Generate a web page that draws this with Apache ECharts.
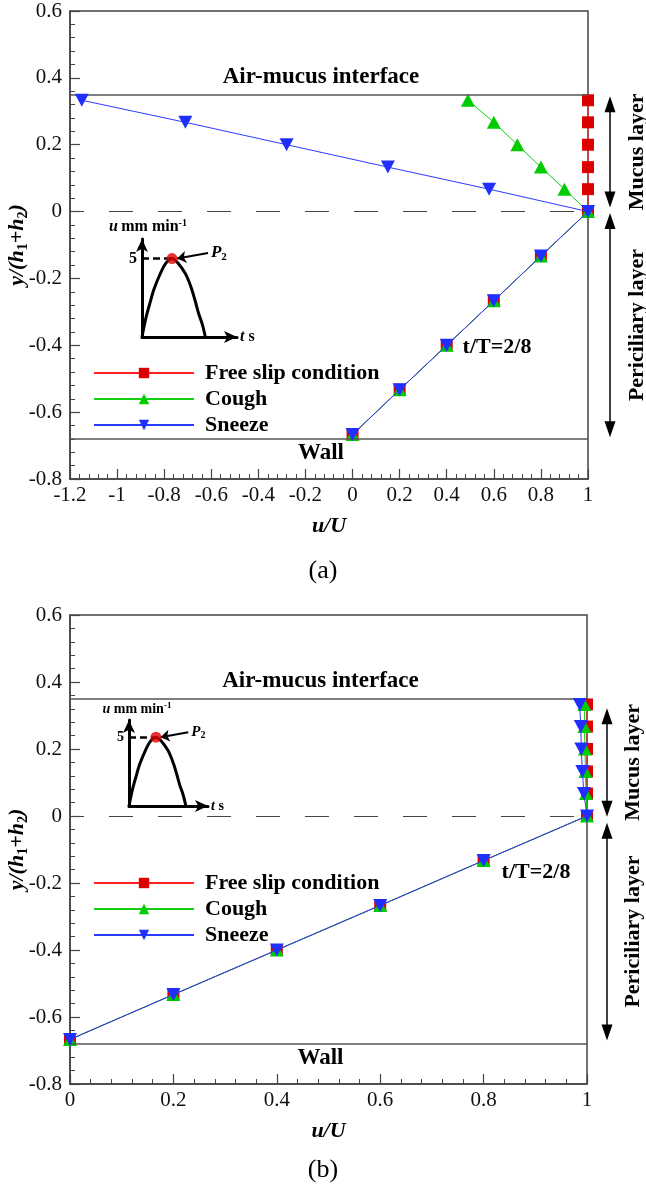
<!DOCTYPE html>
<html><head><meta charset="utf-8">
<script src="https://cdn.jsdelivr.net/npm/echarts@6/dist/echarts.min.js"></script>
<style>html,body{margin:0;padding:0;background:#fff}#c{width:646px;height:1191px}</style>
</head><body><div id="c"></div>
<script>
// ---------- data ----------
const yPos      = [0.333, 0.267, 0.2, 0.133, 0.067, 0, -0.133, -0.267, -0.4, -0.533, -0.667];
const freeSlipA = [1, 1, 1, 1, 1, 1, 0.8, 0.6, 0.4, 0.2, 0];
const coughA    = [0.49, 0.6, 0.7, 0.8, 0.9, 1, 0.8, 0.6, 0.4, 0.2, 0];
const sneezeA   = [-1.15, -0.71, -0.28, 0.15, 0.58, 1, 0.8, 0.6, 0.4, 0.2, 0];
const freeSlipB = [1, 1, 1, 1, 1, 1, 0.8, 0.6, 0.4, 0.2, 0];
const coughB    = [0.995, 0.995, 0.996, 0.997, 0.998, 1, 0.8, 0.6, 0.4, 0.2, 0];
const sneezeB   = [0.986, 0.988, 0.989, 0.991, 0.994, 1, 0.8, 0.6, 0.4, 0.2, 0];
const seriesNames = ['Free slip condition', 'Cough', 'Sneeze'];
const xRangeA = [-1.2, 1];
const xRangeB = [0, 1];
const yRange  = [-0.8, 0.6];
const tickStep = 0.2;
const interfaceY = 0.35;
const wallY = -0.68;
const mucusArrowA = [0.345, 0.012], periArrowA = [-0.004, -0.675];
const mucusArrowB = [0.322, -0.002], periArrowB = [-0.02, -0.67];
// inset: velocity pulse sketch
const pulseT = [0, 0.026, 0.053, 0.09, 0.123, 0.193, 0.25, 0.316, 0.38, 0.456, 0.49, 0.526, 0.56, 0.596, 0.635, 0.667];
const pulseU = [0, 0.8, 1.5, 2.3, 3.0, 4.05, 4.7, 5.0, 4.7, 4.05, 3.6, 3.0, 2.3, 1.5, 0.8, 0];
const peakP2 = [0.316, 5];
const p2ArrowFrom = [0.695, 5.36], p2ArrowTo = [0.37, 5.0];
const pulseLabel = 5;

// ---------- styles ----------
const FONT = "'Liberation Serif', 'Times New Roman', serif";
const AX = '#444';
const sym = {
  square: 'rect',
  up: 'path://M5,0 L10,9 L0,9 Z',
  down: 'path://M0,0 L10,0 L5,9 Z'
};
const styles = [
  {line: '#ff2020', mark: '#dd0000', symbol: sym.square, size: 12},
  {line: '#10d010', mark: '#00cc00', symbol: sym.up, size: [14, 13]},
  {line: '#2a3cff', mark: '#1f2fff', symbol: sym.down, size: [14, 13]}
];

const chart = echarts.init(document.getElementById('c'));

function mainX(gi, r) {
  return {
    gridIndex: gi, type: 'value', min: r[0], max: r[1], interval: tickStep,
    axisLine: {show: true, onZero: false, lineStyle: {color: AX, width: 1.5}},
    axisTick: {show: true, inside: true, length: 10, lineStyle: {color: AX, width: 1.2}},
    minorTick: {show: true, splitNumber: 5, length: 5, lineStyle: {color: AX, width: 1}},
    splitLine: {show: false}, minorSplitLine: {show: false},
    axisLabel: {fontFamily: FONT, fontSize: 21, color: '#111', margin: 6},
    name: 'u/U', nameLocation: 'middle', nameGap: 36, nameMoveOverlap: false,
    nameTextStyle: {fontFamily: FONT, fontSize: 22, fontWeight: 'bold', fontStyle: 'italic', color: '#000'}
  };
}
function mainY(gi) {
  return {
    gridIndex: gi, type: 'value', min: yRange[0], max: yRange[1], interval: tickStep,
    axisLine: {show: true, onZero: false, lineStyle: {color: AX, width: 1.5}},
    axisTick: {show: true, inside: true, length: 10, lineStyle: {color: AX, width: 1.2}},
    minorTick: {show: true, splitNumber: 5, length: 5, lineStyle: {color: AX, width: 1}},
    splitLine: {show: false}, minorSplitLine: {show: false},
    axisLabel: {fontFamily: FONT, fontSize: 21, color: '#111', margin: 8},
    name: '{b|y/(h}{s|1}{b|+h}{s|2}{b|)}', nameLocation: 'middle', nameGap: 40, nameRotate: 90, nameMoveOverlap: false,
    nameTextStyle: {
      rich: {
        b: {fontFamily: FONT, fontSize: 22, fontWeight: 'bold', fontStyle: 'italic', color: '#000', lineHeight: 26, verticalAlign: 'middle'},
        s: {fontFamily: FONT, fontSize: 14, fontWeight: 'bold', color: '#000', lineHeight: 14, verticalAlign: 'bottom', padding: [8, 0, 0, 0]}
      }
    }
  };
}
function insetX(gi, max, fs) {
  return {
    gridIndex: gi, type: 'value', min: 0, max: max,
    axisLine: {show: true, onZero: false, lineStyle: {color: '#000', width: 3}, symbol: ['none', 'arrow'], symbolSize: [9, 13]},
    axisTick: {show: false}, axisLabel: {show: false}, splitLine: {show: false},
    name: '{i|t}{r| s}', nameLocation: 'end', nameGap: 3,
    nameTextStyle: {rich: {
      i: {fontFamily: FONT, fontSize: fs, fontWeight: 'bold', fontStyle: 'italic', color: '#000'},
      r: {fontFamily: FONT, fontSize: fs, fontWeight: 'bold', color: '#000'}
    }}
  };
}
function insetY(gi, fs, padL) {
  return {
    gridIndex: gi, type: 'value', min: 0, max: 6.25, interval: 5,
    axisLine: {show: true, onZero: false, lineStyle: {color: '#000', width: 3}, symbol: ['none', 'arrow'], symbolSize: [9, 13]},
    axisTick: {show: false}, splitLine: {show: false},
    axisLabel: {formatter: v => (v === pulseLabel ? String(pulseLabel) : ''), fontFamily: FONT, fontSize: fs, fontWeight: 'bold', color: '#000', margin: 5},
    name: '{i|u} {r|mm min}{sup|-1}', nameLocation: 'end', nameGap: 3,
    nameTextStyle: {padding: [0, 0, 0, padL], rich: {
      i: {fontFamily: FONT, fontSize: fs, fontWeight: 'bold', fontStyle: 'italic', color: '#000', lineHeight: fs + 2},
      r: {fontFamily: FONT, fontSize: fs, fontWeight: 'bold', color: '#000', lineHeight: fs + 2},
      sup: {fontFamily: FONT, fontSize: Math.round(fs * 0.65), fontWeight: 'bold', color: '#000', verticalAlign: 'top', lineHeight: Math.round(fs * 0.65)}
    }}
  };
}

function refLines() {
  return {
    silent: true, symbol: 'none', animation: false,
    data: [
      {yAxis: interfaceY, lineStyle: {color: '#555', width: 1.5, type: 'solid'},
       label: {show: true, position: 'insideMiddleTop', formatter: 'Air-mucus interface', distance: 6, padding: [0, 16, 0, 0],
               fontFamily: FONT, fontSize: 23, fontWeight: 'bold', color: '#000'}},
      {yAxis: wallY, lineStyle: {color: '#555', width: 1.5, type: 'solid'},
       label: {show: true, position: 'insideMiddleBottom', formatter: 'Wall', distance: 3, padding: [0, 16, 0, 0],
               fontFamily: FONT, fontSize: 23, fontWeight: 'bold', color: '#000'}},
      {yAxis: 0, lineStyle: {color: AX, width: 1.2, type: [24, 25], dashOffset: 10}, label: {show: false}}
    ]
  };
}

function mainSeries(gi, arrays) {
  return arrays.map((xs, k) => {
    const st = styles[k];
    const s = {
      type: 'line', name: seriesNames[k], xAxisIndex: gi, yAxisIndex: gi,
      data: xs.map((u, i) => [u, yPos[i]]),
      symbol: st.symbol, symbolSize: st.size, clip: false,
      lineStyle: {color: st.line, width: 1},
      itemStyle: {color: st.mark},
      emphasis: {disabled: true}, z: 3 + k
    };
    if (k === 0) s.markLine = refLines();
    return s;
  });
}

function insetSeries(gi, fs) {
  return [
    {
      type: 'line', xAxisIndex: gi, yAxisIndex: gi, smooth: 0.3, symbol: 'none',
      data: pulseT.map((t, i) => [t, pulseU[i]]),
      lineStyle: {color: '#000', width: 3}, z: 6,
      markLine: {silent: true, symbol: 'none', animation: false,
        lineStyle: {color: '#000', width: 2.5, type: [7, 4]}, label: {show: false},
        data: [[{coord: [0, pulseLabel]}, {coord: peakP2}]]}
    },
    {
      type: 'scatter', xAxisIndex: gi, yAxisIndex: gi, data: [peakP2],
      symbolSize: 11, itemStyle: {color: '#e00000'}, z: 8,
      markLine: {silent: true, animation: false, symbol: ['none', 'arrow'], symbolSize: 9,
        lineStyle: {color: '#000', width: 2, type: 'solid'},
        label: {show: true, position: 'start', distance: 3, formatter: '{p|P}{s|2}',
          rich: {
            p: {fontFamily: FONT, fontSize: fs + 1, fontWeight: 'bold', fontStyle: 'italic', color: '#000', lineHeight: fs + 4},
            s: {fontFamily: FONT, fontSize: Math.round(fs * 0.7), fontWeight: 'bold', color: '#000', verticalAlign: 'bottom', lineHeight: Math.round(fs * 0.7)}
          }},
        data: [[{coord: p2ArrowFrom}, {coord: p2ArrowTo}]]}
    }
  ];
}

function legendAt(top) {
  return {
    left: 88, top: top, orient: 'vertical', itemWidth: 100, itemHeight: 13, itemGap: 0,
    selectedMode: false, data: seriesNames,
    textStyle: {fontFamily: FONT, fontSize: 22, fontWeight: 'bold', color: '#000', lineHeight: 26, padding: [0, 0, 0, 6]}
  };
}

const gridBase = {outerBoundsMode: 'none', containLabel: false};
const option = {
  animation: false,
  backgroundColor: '#fff',
  grid: [
    Object.assign({left: 70, right: 58, top: 11, height: 468, show: true, borderColor: AX, borderWidth: 1.5, backgroundColor: 'transparent'}, gridBase),
    Object.assign({left: 70, right: 59, top: 615, height: 469, show: true, borderColor: AX, borderWidth: 1.5, backgroundColor: 'transparent'}, gridBase),
    Object.assign({left: 142, top: 239, width: 95, height: 98}, gridBase),
    Object.assign({left: 129, top: 720, width: 79, height: 86}, gridBase)
  ],
  xAxis: [mainX(0, xRangeA), mainX(1, xRangeB), insetX(2, 1, 16), insetX(3, 0.926, 14)],
  yAxis: [mainY(0), mainY(1), insetY(2, 16, 12), insetY(3, 14, 16)],
  legend: [legendAt(355), legendAt(865)],
  series: [
    ...mainSeries(0, [freeSlipA, coughA, sneezeA]),
    ...mainSeries(1, [freeSlipB, coughB, sneezeB]),
    ...insetSeries(2, 16),
    ...insetSeries(3, 14)
  ]
};
chart.setOption(option);

// ---------- annotations outside the plotting area ----------
function py(gi, v) { return chart.convertToPixel({yAxisIndex: gi}, v); }
function px(gi, v) { return chart.convertToPixel({xAxisIndex: gi}, v); }
function dblArrow(x, v1, v2, gi) {
  const y1 = py(gi, v1), y2 = py(gi, v2);
  const hw = 5.5, hh = 16;
  return [
    {type: 'line', shape: {x1: x, y1: y1 + hh - 2, x2: x, y2: y2 - hh + 2}, style: {stroke: '#000', lineWidth: 1.5}, silent: true},
    {type: 'polygon', shape: {points: [[x, y1], [x - hw, y1 + hh], [x + hw, y1 + hh]]}, style: {fill: '#000'}, silent: true},
    {type: 'polygon', shape: {points: [[x, y2], [x - hw, y2 - hh], [x + hw, y2 - hh]]}, style: {fill: '#000'}, silent: true}
  ];
}
function vText(x, y, text) {
  return {type: 'text', x: x, y: y, rotation: Math.PI / 2, silent: true,
    style: {text: text, x: 0, y: 0, font: 'bold 22px ' + FONT, fill: '#000', align: 'center', verticalAlign: 'middle', textAlign: 'center', textVerticalAlign: 'middle'}};
}
function hText(x, y, text, font) {
  return {type: 'text', x: x, y: y, silent: true,
    style: {text: text, x: 0, y: 0, font: font, fill: '#000', align: 'center', verticalAlign: 'middle', textAlign: 'center', textVerticalAlign: 'middle'}};
}
const g = [];
[[0, mucusArrowA, periArrowA, 22, 49], [1, mucusArrowB, periArrowB, 20, 46]].forEach(([gi, m, p, dx, tx]) => {
  const xr = px(gi, gi === 0 ? xRangeA[1] : xRangeB[1]);
  g.push(...dblArrow(xr + dx, m[0], m[1], gi));
  g.push(...dblArrow(xr + dx, p[0], p[1], gi));
  g.push(vText(xr + tx, (py(gi, m[0]) + py(gi, m[1])) / 2, 'Mucus layer'));
  g.push(vText(xr + tx, (py(gi, p[0]) + py(gi, p[1])) / 2, 'Periciliary layer'));
});
g.push(hText(497, 347, 't/T=2/8', 'bold 22px ' + FONT));
g.push(hText(536, 872, 't/T=2/8', 'bold 22px ' + FONT));
g.push(hText(323, 571, '(a)', '26px ' + FONT));
g.push(hText(323, 1170, '(b)', '26px ' + FONT));
chart.setOption({graphic: g});
</script>
</body></html>
